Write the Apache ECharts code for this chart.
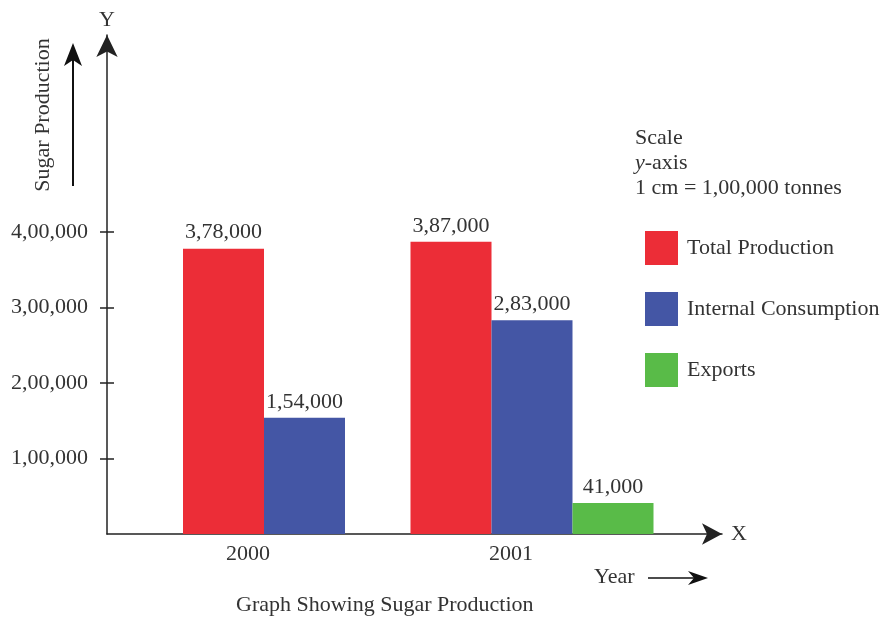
<!DOCTYPE html>
<html>
<head>
<meta charset="utf-8">
<script src="https://cdn.jsdelivr.net/npm/echarts@6/dist/echarts.min.js"></script>
<style>
  body { margin: 0; background: #fff; }
  #chart { width: 887px; height: 620px; }
</style>
</head>
<body>
<div id="chart"></div>
<script>
  const years = ['2000', '2001']
  const totalProduction = [378000, 387000]
  const internalConsumption = [154000, 283000]
  const exportsData = [null, 41000]
  const yTicks = [100000, 200000, 300000, 400000]
  const seriesNames = ['Total Production', 'Internal Consumption', 'Exports']

  const font = 'Liberation Serif'
  const fs = 22
  const txt = '#333'
  const yMax = 661000

  // indian grouping: 3,78,000
  function inr(v) {
    const s = String(v)
    if (s.length <= 3) return s
    const rest = s.slice(0, -3).replace(/\B(?=(\d{2})+(?!\d))/g, ',')
    return rest + ',' + s.slice(-3)
  }

  const chart = echarts.init(document.getElementById('chart'))

  const barLabel = {
    show: true,
    position: 'top',
    distance: 5,
    color: txt,
    fontFamily: font,
    fontSize: fs,
    formatter: (p) => inr(p.value)
  }
  const tickStyle = { color: '#222', width: 1.5 }

  chart.setOption({
    animation: false,
    title: {
      text: 'Graph Showing Sugar Production',
      left: 236,
      top: 594,
      padding: 0,
      textStyle: { fontFamily: font, fontSize: fs, fontWeight: 'normal', color: txt }
    },
    legend: {
      data: seriesNames,
      orient: 'vertical',
      left: 645,
      top: 231,
      padding: 0,
      icon: 'rect',
      itemWidth: 33,
      itemHeight: 34,
      itemGap: 27,
      textStyle: { fontFamily: font, fontSize: fs, color: txt, padding: [0, 0, 4, 4] }
    },
    grid: [
      { left: 107, right: 165, top: 35, bottom: 86 },   // drawn axes
      { left: 190.75, width: 455, top: 35, bottom: 86 } // bars
    ],
    xAxis: [
      {
        gridIndex: 0,
        type: 'value',
        min: 0,
        max: 1,
        name: 'X',
        nameGap: 9,
        nameTextStyle: { fontFamily: font, fontSize: fs, color: txt },
        axisLine: {
          show: true,
          symbol: ['none', 'arrow'],
          symbolSize: [16, 20],
          lineStyle: { color: '#222', width: 1.5 }
        },
        axisTick: { show: false },
        axisLabel: { show: false },
        splitLine: { show: false }
      },
      {
        gridIndex: 1,
        type: 'category',
        data: [
          { value: years[0], textStyle: { padding: [0, 113, 0, 0] } },
          { value: years[1], textStyle: { padding: [0, 42, 0, 0] } }
        ],
        axisLine: { show: false },
        axisTick: { show: false },
        axisLabel: { margin: 9, fontFamily: font, fontSize: fs, color: txt }
      }
    ],
    yAxis: [
      {
        gridIndex: 0,
        type: 'value',
        position: 'left',
        min: 0,
        max: yMax,
        name: 'Y',
        nameGap: 4,
        nameTextStyle: { fontFamily: font, fontSize: fs, color: txt },
        axisLine: {
          show: true,
          symbol: ['none', 'arrow'],
          symbolSize: [16, 22],
          lineStyle: { color: '#222', width: 1.5 }
        },
        axisTick: { show: true, length: 7, customValues: yTicks, lineStyle: tickStyle },
        axisLabel: {
          margin: 19,
          fontFamily: font,
          fontSize: fs,
          color: txt,
          customValues: yTicks,
          formatter: (v) => inr(v)
        },
        splitLine: { show: false }
      },
      {
        gridIndex: 1,
        type: 'value',
        min: 0,
        max: yMax,
        show: false,
        splitLine: { show: false }
      },
      {
        // inner half of the cross ticks
        gridIndex: 0,
        type: 'value',
        position: 'left',
        min: 0,
        max: yMax,
        axisLine: { show: false },
        axisTick: { show: true, inside: true, length: 7, customValues: yTicks, lineStyle: tickStyle },
        axisLabel: { show: false },
        splitLine: { show: false }
      }
    ],
    series: [
      {
        name: seriesNames[0],
        type: 'bar',
        xAxisIndex: 1,
        yAxisIndex: 1,
        data: totalProduction,
        barWidth: 81,
        barGap: 0,
        clip: false,
        itemStyle: { color: '#ec2d37' },
        label: barLabel
      },
      {
        name: seriesNames[1],
        type: 'bar',
        xAxisIndex: 1,
        yAxisIndex: 1,
        data: internalConsumption,
        barWidth: 81,
        barGap: 0,
        clip: false,
        itemStyle: { color: '#4456a5' },
        label: barLabel
      },
      {
        name: seriesNames[2],
        type: 'bar',
        xAxisIndex: 1,
        yAxisIndex: 1,
        data: exportsData,
        barWidth: 81,
        barGap: 0,
        clip: false,
        itemStyle: { color: '#59bb48' },
        label: barLabel
      }
    ],
    graphic: [
      {
        type: 'text',
        left: 635,
        top: 126,
        style: {
          text: 'Scale\n{i|y}-axis\n1 cm = 1,00,000 tonnes',
          fontFamily: font,
          fontSize: fs,
          lineHeight: 25,
          fill: txt,
          rich: { i: { fontStyle: 'italic', fontFamily: font, fontSize: fs, lineHeight: 25, fill: txt } }
        }
      },
      {
        type: 'text',
        x: 43,
        y: 115,
        rotation: Math.PI / 2,
        style: {
          text: 'Sugar Production',
          fontFamily: font,
          fontSize: fs,
          fill: txt,
          align: 'center',
          verticalAlign: 'middle'
        }
      },
      {
        type: 'line',
        shape: { x1: 73, y1: 186, x2: 73, y2: 58 },
        style: { stroke: '#111', lineWidth: 2 }
      },
      {
        type: 'polygon',
        shape: { points: [[73, 43], [64, 66], [73, 60], [82, 66]] },
        style: { fill: '#111' }
      },
      {
        type: 'text',
        left: 594,
        top: 566,
        style: { text: 'Year', fontFamily: font, fontSize: fs, fill: txt }
      },
      {
        type: 'line',
        shape: { x1: 648, y1: 578, x2: 698, y2: 578 },
        style: { stroke: '#111', lineWidth: 1.5 }
      },
      {
        type: 'polygon',
        shape: { points: [[708, 578], [688, 571], [694, 578], [688, 585]] },
        style: { fill: '#111' }
      }
    ]
  })
</script>
</body>
</html>
